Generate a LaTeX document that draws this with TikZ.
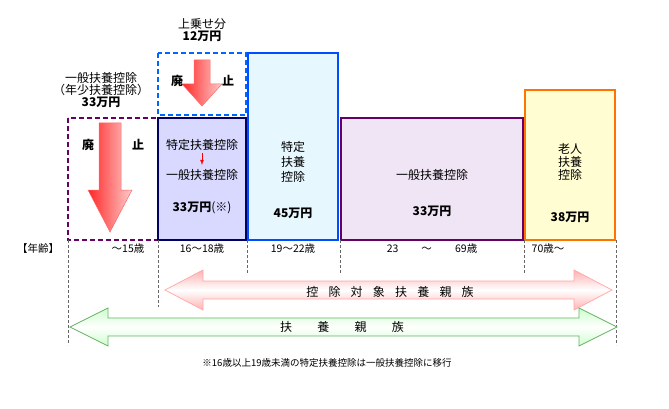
\documentclass[tikz,border=0pt]{standalone}
\usepackage{fontspec}
\setmainfont{Noto Sans CJK JP}
\begin{document}
\begin{tikzpicture}[x=1pt,y=-1pt,font=\fontsize{12}{14}\selectfont,
  vl/.style={densely dashed,gray!80!black,line width=0.6pt},
  bx/.style={line width=1.4pt},
  dsh/.style={dash pattern=on 5pt off 3pt},
  dn/.style={draw=red!60,line width=0.5pt,left color=red!85,right color=red!20},
  t/.style={inner sep=0pt,align=center},
  ag/.style={t,font=\fontsize{10.5}{12}\selectfont}]
\useasboundingbox (0,0) rectangle (669,409);
% boxes
\draw[bx,dsh,draw=violet!80!black] (68,118) rectangle (158,240);
\draw[bx,dsh,draw=blue!60!cyan] (158,53) rectangle (246,115);
\draw[bx,draw=blue!40!black,fill=blue!15] (158,118) rectangle (246,240);
\draw[bx,draw=blue!70!cyan,fill=cyan!10] (248,53) rectangle (338,240);
\draw[bx,draw=violet!80!black,fill=blue!25!violet!10] (341,118) rectangle (523,240);
\draw[bx,draw=orange!90!red,fill=yellow!18] (525,90) rectangle (615,240);
% down arrows
\path[dn] (99,123) -- (121,123) -- (121,190) -- (132,190) -- (110,232) -- (88,190) -- (99,190) -- cycle;
\path[dn] (194,60) -- (210,60) -- (210,84) -- (222,84) -- (202,106) -- (182,84) -- (194,84) -- cycle;
\node[t,font=\bfseries\fontsize{12}{14}\selectfont] (h1) at (88,145) {廃};
\node[t,font=\bfseries\fontsize{12}{14}\selectfont] (s1) at (138,145) {止};
\node[t,font=\bfseries\fontsize{12}{14}\selectfont] (h2) at (177,81) {廃};
\node[t,font=\bfseries\fontsize{12}{14}\selectfont] (s2) at (228,81) {止};
% texts
\node[t] (top) at (202,30) {上乗せ分\\[-2pt]\textbf{12万円}};
\node[t] (ipp) at (101,90) {一般扶養控除\\[-2pt]（年少扶養控除）\\[-2pt]\textbf{33万円}};
\node[t] (a1) at (202,145) {特定扶養控除};
\node[t] (a2) at (202,175) {一般扶養控除};
\draw[-latex,red,line width=0.8pt] (202,153) -- (202,165);
\node[t] at (202,208) {\textbf{33万円}(※)};
\node[t] at (293,162) {特定\\[1pt]扶養\\[1pt]控除};
\node[t] at (293,213) {\textbf{45万円}};
\node[t] at (432,175) {一般扶養控除};
\node[t] at (432,211) {\textbf{33万円}};
\node[t] at (570,162) {老人\\[-1pt]扶養\\[-1pt]控除};
\node[t] at (570,217) {\textbf{38万円}};
% ages
\node[ag] at (38,249) {【年齢】};
\node[ag] at (128,249) {～15歳};
\node[ag] at (202,249) {16～18歳};
\node[ag] at (293,249) {19～22歳};
\node[ag] at (432,249) {23\hspace{2.2em}～\hspace{2.2em}69歳};
\node[ag] at (548,249) {70歳～};
\draw[vl] (68,240) -- (68,345);
\draw[vl] (158,240) -- (158,307);
\draw[vl] (247,240) -- (247,273);
\draw[vl] (340,240) -- (340,273);
\draw[vl] (524,240) -- (524,273);
\draw[vl] (616,240) -- (616,345);
% double arrows
\path[draw=red!35,line width=0.7pt,top color=red!30,bottom color=red!30,middle color=white]
 (165,290) -- (203,270) -- (203,281) -- (574,281) -- (574,270) -- (612,290) -- (574,310) -- (574,299) -- (203,299) -- (203,310) -- cycle;
\path[draw=green!50!black!60,line width=0.7pt,top color=green!20,bottom color=green!20,middle color=white]
 (70,327) -- (108,308) -- (108,318) -- (579,318) -- (579,308) -- (617,327) -- (579,346) -- (579,336) -- (108,336) -- (108,346) -- cycle;
\node[t] at (390,292) {控\hspace{0.85em}除\hspace{0.85em}対\hspace{0.85em}象\hspace{0.85em}扶\hspace{0.85em}養\hspace{0.85em}親\hspace{0.85em}族};
\node[t] at (342,327) {扶\hspace{2.1em}養\hspace{2.1em}親\hspace{2.1em}族};
\node[t,font=\fontsize{9.5}{11}\selectfont] at (327,363) {※16歳以上19歳未満の特定扶養控除は一般扶養控除に移行};
\end{tikzpicture}
\end{document}
